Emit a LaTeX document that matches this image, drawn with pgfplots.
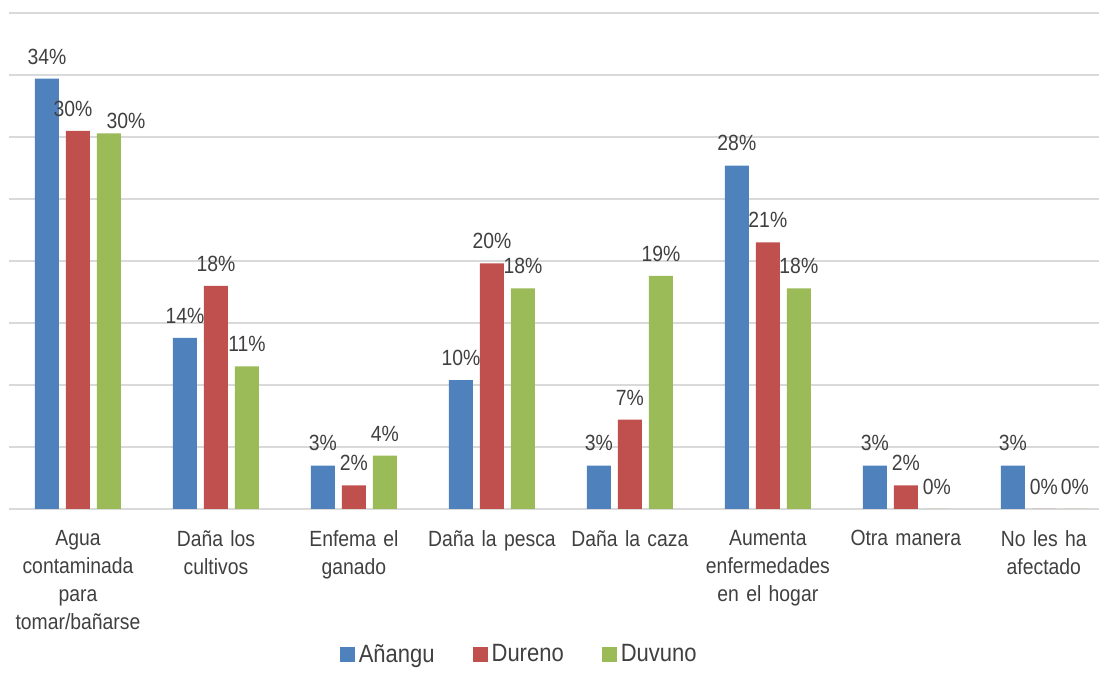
\documentclass[border=0pt]{standalone}
\usepackage{fontspec}
\setmainfont{Liberation Sans}[FakeStretch=0.88]
\usepackage{pgfplots}
\pgfplotsset{compat=1.18}
\definecolor{cA}{HTML}{4F81BD}
\definecolor{cD}{HTML}{C0504D}
\definecolor{cV}{HTML}{9BBB59}
\definecolor{gridc}{HTML}{D9D9D9}
\definecolor{txt}{HTML}{404040}
\begin{document}
\begin{tikzpicture}
\useasboundingbox (0,0) rectangle (549.5pt,337.5pt);
\begin{axis}[
    at={(4.5pt,83pt)}, anchor=south west,
    scale only axis,
    width=545pt, height=248pt,
    xmin=-0.5, xmax=7.4,
    ymin=0, ymax=40,
    ybar, bar width=12pt,
    axis line style={draw=none},
    ytick={0,5,...,40}, yticklabels={},
    ymajorgrids, grid style={gridc, line width=1.2pt},
    major tick length=0pt,
    xtick={0,...,7},
    xticklabels={Agua\\contaminada\\para\\tomar/bañarse, Daña los\\cultivos, Enfema el\\ganado, Daña la pesca, Daña la caza, Aumenta\\enfermedades\\en el hogar, Otra manera, No les ha\\afectado},
    xticklabel style={anchor=north, yshift=-7pt, text width=66pt, align=center, font=\fontsize{11}{14}\selectfont, text=txt},
    point meta=explicit symbolic,
    visualization depends on={x \as \xv},
    nodes near coords,
    nodes near coords style={anchor=south, inner sep=0pt, yshift=7pt, font=\fontsize{11}{13}\selectfont, text=txt},
    legend columns=3,
    legend style={at={(0.469,-0.294)}, anchor=center, draw=none, font=\fontsize{12.5}{14}\selectfont, text=txt,
        /tikz/every even column/.append style={column sep=17pt}},
    legend image code/.code={\fill[#1] (0pt,-3.75pt) rectangle (7.5pt,3.75pt);},
]
\addplot[fill=cA, draw=none, bar shift=-15.5pt] coordinates {
    (0,34.7) [34\%] (1,13.8) [14\%] (2,3.5) [3\%] (3,10.4) [10\%]
    (4,3.5) [3\%] (5,27.7) [28\%] (6,3.5) [3\%] (7,3.5) [3\%]
};
\addplot[fill=cD, draw=none, bar shift=0pt,
    nodes near coords style={xshift={(\xv==0)*(-2.5pt)}}] coordinates {
    (0,30.5) [30\%] (1,18.0) [18\%] (2,1.9) [2\%] (3,19.8) [20\%]
    (4,7.2) [7\%] (5,21.5) [21\%] (6,1.9) [2\%] (7,0) [0\%]
};
\addplot[fill=cV, draw=none, bar shift=15.5pt,
    nodes near coords style={xshift={(\xv==0)*8.5pt}, yshift={(\xv==0)*(-5pt)}}] coordinates {
    (0,30.3) [30\%] (1,11.5) [11\%] (2,4.3) [4\%] (3,17.8) [18\%]
    (4,18.8) [19\%] (5,17.8) [18\%] (6,0) [0\%] (7,0) [0\%]
};
\legend{Añangu, Dureno, Duvuno}
\end{axis}
\end{tikzpicture}
\end{document}
